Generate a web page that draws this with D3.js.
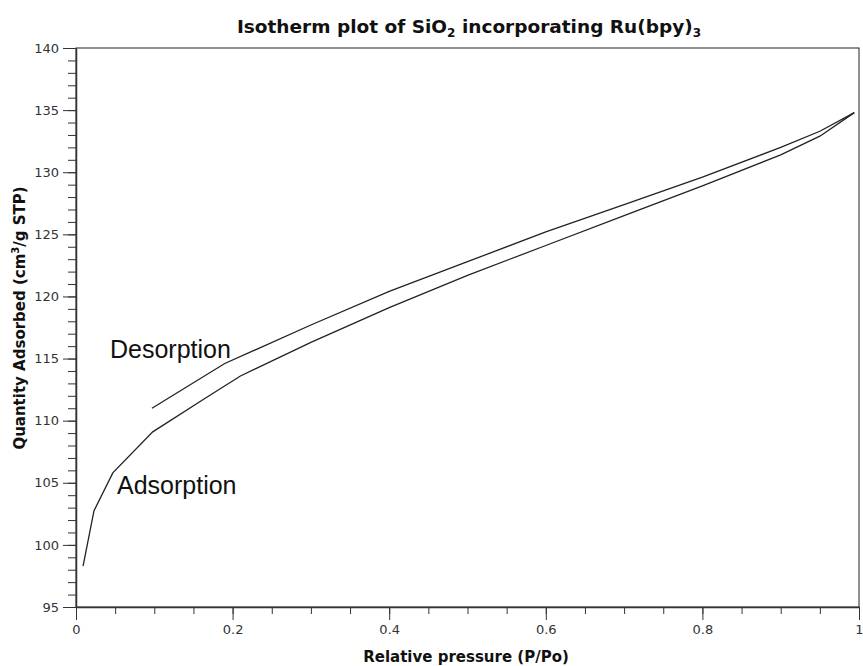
<!DOCTYPE html>
<html>
<head>
<meta charset="utf-8">
<script src="https://cdn.jsdelivr.net/npm/d3@7"></script>
<style>
  body { margin: 0; background: #fff; }
  svg { display: block; }
  .tick text { font-family: Tahoma, "DejaVu Sans", sans-serif; font-size: 13px; fill: #333; }
</style>
</head>
<body>
<div id="chart"></div>
<script>
const width = 863;
const height = 666;

// Adsorption branch (P/Po, cm3/g STP)
const adsP = [0.009, 0.023, 0.047, 0.098, 0.165, 0.21, 0.3, 0.4, 0.5, 0.6, 0.7, 0.8, 0.9, 0.95, 0.994];
const adsQ = [98.3, 102.75, 105.8, 109.1, 111.8, 113.6, 116.3, 119.1, 121.7, 124.1, 126.5, 128.9, 131.4, 132.9, 134.8];

// Desorption branch
const desP = [0.097, 0.19, 0.3, 0.4, 0.5, 0.6, 0.7, 0.8, 0.9, 0.95, 0.994];
const desQ = [111.0, 114.6, 117.7, 120.4, 122.8, 125.2, 127.4, 129.6, 132.0, 133.3, 134.8];

const xTicks = [0, 0.2, 0.4, 0.6, 0.8, 1];
const yTicks = [95, 100, 105, 110, 115, 120, 125, 130, 135, 140];

const margin = { top: 48, right: 4, bottom: 59, left: 76 };
const labelFont = 'Tahoma, "DejaVu Sans", sans-serif';

const svg = d3.select('#chart')
    .append('svg')
    .attr('width', width)
    .attr('height', height);

const xScale = d3.scaleLinear().domain([0, 1]).range([margin.left, width - margin.right]);
const yScale = d3.scaleLinear().domain([95, 140]).range([height - margin.bottom, margin.top]);

// frame (top and right edges)
svg.append('rect')
    .attr('x', xScale(0))
    .attr('y', yScale(140))
    .attr('width', xScale(1) - xScale(0))
    .attr('height', yScale(95) - yScale(140))
    .attr('fill', 'none')
    .attr('stroke', '#222')
    .attr('stroke-width', 1);

// minor ticks
svg.append('g')
    .attr('transform', `translate(0, ${yScale(95)})`)
    .call(d3.axisBottom(xScale).tickValues(d3.range(0, 1.001, 0.05)).tickFormat('').tickSize(7).tickSizeOuter(0))
    .call(g => g.select('.domain').remove())
    .selectAll('line').attr('stroke', '#333');

svg.append('g')
    .attr('transform', `translate(${xScale(0)}, 0)`)
    .call(d3.axisLeft(yScale).tickValues(d3.range(95, 140.01, 1)).tickFormat('').tickSize(8).tickSizeOuter(0))
    .call(g => g.select('.domain').remove())
    .selectAll('line').attr('stroke', '#333');

// major ticks + labels
const xAxis = svg.append('g')
    .attr('transform', `translate(0, ${yScale(95)})`)
    .call(d3.axisBottom(xScale).tickValues(xTicks).tickFormat(d3.format('~g')).tickSize(13).tickSizeOuter(0).tickPadding(5));
xAxis.select('.domain').attr('stroke', '#333').attr('stroke-width', 1.5);
xAxis.selectAll('line').attr('stroke', '#333');

const yAxis = svg.append('g')
    .attr('transform', `translate(${xScale(0)}, 0)`)
    .call(d3.axisLeft(yScale).tickValues(yTicks).tickSize(13).tickSizeOuter(0).tickPadding(4));
yAxis.select('.domain').attr('stroke', '#333').attr('stroke-width', 1.5);
yAxis.selectAll('line').attr('stroke', '#333');

// curves
const line = d3.line()
    .x(d => xScale(d[0]))
    .y(d => yScale(d[1]));

svg.append('path')
    .datum(d3.zip(adsP, adsQ))
    .attr('d', line)
    .attr('fill', 'none')
    .attr('stroke', '#222')
    .attr('stroke-width', 1.3);

svg.append('path')
    .datum(d3.zip(desP, desQ))
    .attr('d', line)
    .attr('fill', 'none')
    .attr('stroke', '#222')
    .attr('stroke-width', 1.3);

// annotations
svg.append('text')
    .attr('x', 110).attr('y', 358)
    .attr('font-family', 'Arial, "Liberation Sans", sans-serif')
    .attr('font-size', 25)
    .attr('fill', '#111')
    .text('Desorption');

svg.append('text')
    .attr('x', 117).attr('y', 494)
    .attr('font-family', 'Arial, "Liberation Sans", sans-serif')
    .attr('font-size', 25)
    .attr('fill', '#111')
    .text('Adsorption');

// title with subscripts
const title = svg.append('text')
    .attr('x', 469).attr('y', 33)
    .attr('text-anchor', 'middle')
    .attr('font-family', labelFont)
    .attr('font-weight', 'bold')
    .attr('font-size', 18.5)
    .attr('fill', '#111');
title.append('tspan').text('Isotherm plot of SiO');
title.append('tspan').attr('font-size', 12).attr('dy', 4).text('2');
title.append('tspan').attr('dy', -4).text(' incorporating Ru(bpy)');
title.append('tspan').attr('font-size', 12).attr('dy', 4).text('3');

svg.append('text')
    .attr('x', 466).attr('y', 662)
    .attr('text-anchor', 'middle')
    .attr('font-family', labelFont)
    .attr('font-weight', 'bold')
    .attr('font-size', 15)
    .attr('fill', '#111')
    .text('Relative pressure (P/Po)');

const yLabel = svg.append('text')
    .attr('transform', 'translate(25, 318) rotate(-90)')
    .attr('text-anchor', 'middle')
    .attr('font-family', labelFont)
    .attr('font-weight', 'bold')
    .attr('font-size', 15)
    .attr('fill', '#111');
yLabel.append('tspan').text('Quantity Adsorbed (cm');
yLabel.append('tspan').attr('font-size', 10).attr('dy', -6).text('3');
yLabel.append('tspan').attr('dy', 6).text('/g STP)');
</script>
</body>
</html>
